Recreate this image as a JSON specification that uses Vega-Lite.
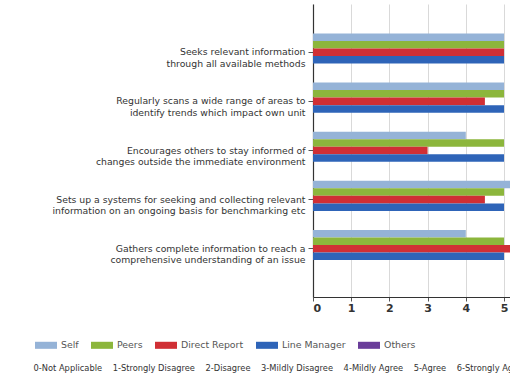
{
  "$schema": "https://vega.github.io/schema/vega-lite/v6.json",
  "width": 197,
  "height": 293,
  "autosize": {"type": "none"},
  "padding": {"left": 313, "top": 4, "right": 0, "bottom": 85},
  "background": "white",
  "config": {
    "view": {"stroke": null},
    "font": "DejaVu Sans"
  },
  "data": {
    "values": [
      {"item": "Seeks relevant information\nthrough all available methods", "rater": "Self", "score": 5},
      {"item": "Seeks relevant information\nthrough all available methods", "rater": "Peers", "score": 5},
      {"item": "Seeks relevant information\nthrough all available methods", "rater": "Direct Report", "score": 5},
      {"item": "Seeks relevant information\nthrough all available methods", "rater": "Line Manager", "score": 5},
      {"item": "Regularly scans a wide range of areas to\nidentify trends which impact own unit", "rater": "Self", "score": 5},
      {"item": "Regularly scans a wide range of areas to\nidentify trends which impact own unit", "rater": "Peers", "score": 5},
      {"item": "Regularly scans a wide range of areas to\nidentify trends which impact own unit", "rater": "Direct Report", "score": 4.5},
      {"item": "Regularly scans a wide range of areas to\nidentify trends which impact own unit", "rater": "Line Manager", "score": 5},
      {"item": "Encourages others to stay informed of\nchanges outside the immediate environment", "rater": "Self", "score": 4},
      {"item": "Encourages others to stay informed of\nchanges outside the immediate environment", "rater": "Peers", "score": 5},
      {"item": "Encourages others to stay informed of\nchanges outside the immediate environment", "rater": "Direct Report", "score": 3},
      {"item": "Encourages others to stay informed of\nchanges outside the immediate environment", "rater": "Line Manager", "score": 5},
      {"item": "Sets up a systems for seeking and collecting relevant\ninformation on an ongoing basis for benchmarking etc", "rater": "Self", "score": 6},
      {"item": "Sets up a systems for seeking and collecting relevant\ninformation on an ongoing basis for benchmarking etc", "rater": "Peers", "score": 5},
      {"item": "Sets up a systems for seeking and collecting relevant\ninformation on an ongoing basis for benchmarking etc", "rater": "Direct Report", "score": 4.5},
      {"item": "Sets up a systems for seeking and collecting relevant\ninformation on an ongoing basis for benchmarking etc", "rater": "Line Manager", "score": 5},
      {"item": "Gathers complete information to reach a\ncomprehensive understanding of an issue", "rater": "Self", "score": 4},
      {"item": "Gathers complete information to reach a\ncomprehensive understanding of an issue", "rater": "Peers", "score": 5},
      {"item": "Gathers complete information to reach a\ncomprehensive understanding of an issue", "rater": "Direct Report", "score": 6},
      {"item": "Gathers complete information to reach a\ncomprehensive understanding of an issue", "rater": "Line Manager", "score": 5}
    ]
  },
  "mark": {"type": "bar", "clip": true},
  "encoding": {
    "y": {
      "field": "item",
      "type": "nominal",
      "sort": null,
      "scale": {"paddingInner": 0.235, "paddingOuter": 0.6},
      "axis": {
        "title": null,
        "labelExpr": "split(datum.value, '\\n')",
        "labelFontSize": 9.3,
        "labelLimit": 400,
        "labelColor": "#333333",
        "labelLineHeight": 11.5,
        "labelPadding": 3,
        "tickSize": 5,
        "tickColor": "#555555",
        "domainColor": "#333333",
        "domainWidth": 1.2,
        "grid": false
      }
    },
    "yOffset": {
      "field": "rater",
      "type": "nominal",
      "scale": {"domain": ["Self", "Peers", "Direct Report", "Line Manager", "Others"], "paddingInner": 0, "paddingOuter": 0}
    },
    "x": {
      "field": "score",
      "type": "quantitative",
      "scale": {"domain": [0, 5.157], "nice": false},
      "axis": {
        "values": [0, 1, 2, 3, 4, 5],
        "format": "d",
        "labelFontSize": 11,
        "labelFontWeight": "bold",
        "labelColor": "#333333",
        "labelPadding": 1,
        "tickSize": 4,
        "tickColor": "#555555",
        "domainColor": "#333333",
        "domainWidth": 1.2,
        "gridColor": "#d9d9d9",
        "title": "0-Not Applicable\u00a0\u00a0\u00a0\u00a01-Strongly Disagree\u00a0\u00a0\u00a0\u00a02-Disagree\u00a0\u00a0\u00a0\u00a03-Mildly Disagree\u00a0\u00a0\u00a0\u00a04-Mildly Agree\u00a0\u00a0\u00a0\u00a05-Agree\u00a0\u00a0\u00a0\u00a06-Strongly Agree",
        "titleX": -280,
        "titleY": 71,
        "titleAlign": "left",
        "titleAnchor": null,
        "titleBaseline": "middle",
        "titleFontSize": 8.3,
        "titleFontWeight": "normal",
        "titleColor": "#333333"
      }
    },
    "color": {
      "field": "rater",
      "type": "nominal",
      "scale": {
        "domain": ["Self", "Peers", "Direct Report", "Line Manager", "Others"],
        "range": ["#95b3d7", "#8cb63c", "#d02f35", "#2e64b8", "#6a3d9a"]
      },
      "legend": {
        "title": null,
        "orient": "none",
        "direction": "horizontal",
        "legendX": -278,
        "legendY": 330,
        "symbolType": "M-1,-0.32H1V0.32H-1Z",
        "symbolSize": 484,
        "symbolStrokeWidth": 0,
        "labelFontSize": 9.4,
        "labelColor": "#555555",
        "labelOffset": 4,
        "columnPadding": 12
      }
    }
  }
}
